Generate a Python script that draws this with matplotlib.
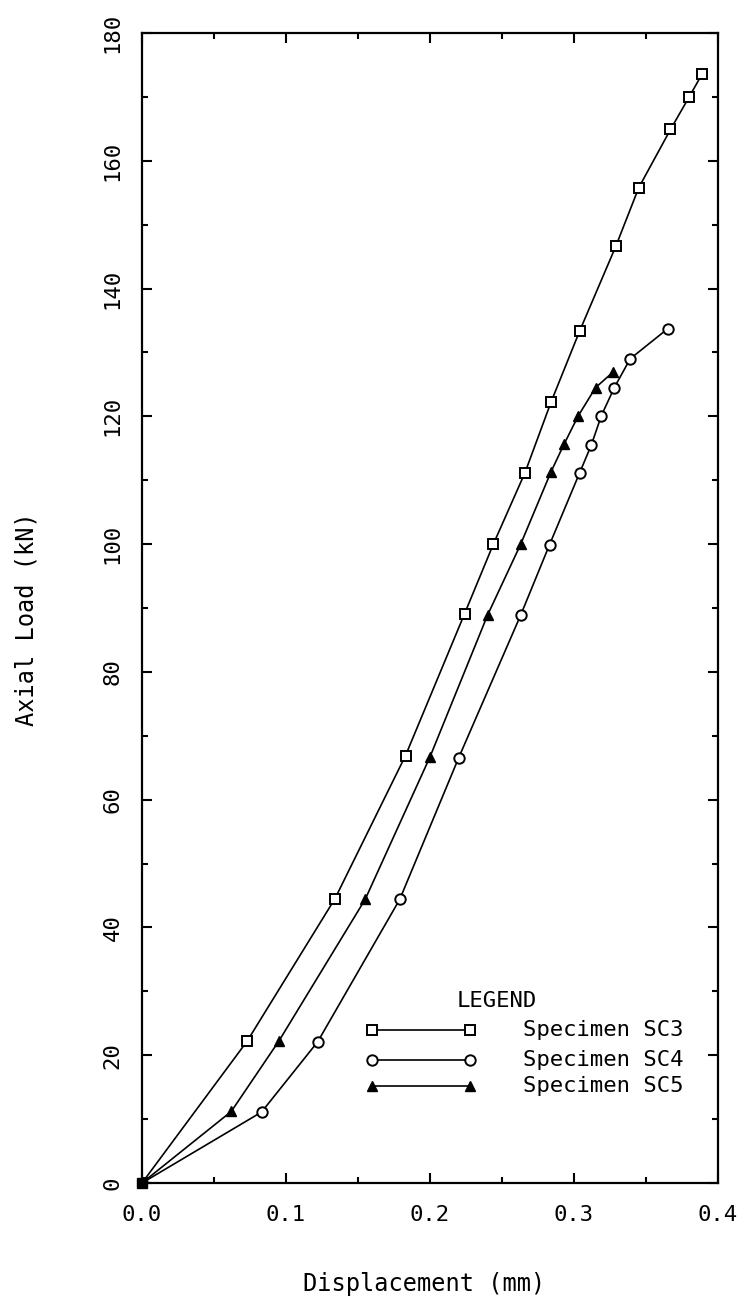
import matplotlib
matplotlib.use("Agg")
import matplotlib.pyplot as plt
from matplotlib.ticker import MultipleLocator

# ---- data ----
sc3_x = [0, 0.073, 0.134, 0.183, 0.224, 0.244, 0.266, 0.284, 0.304, 0.329, 0.345, 0.367, 0.380, 0.389]
sc3_y = [0, 22.2, 44.5, 66.9, 89.1, 100.0, 111.2, 122.2, 133.4, 146.6, 155.8, 164.9, 170.0, 173.6]

sc4_x = [0, 0.083, 0.122, 0.179, 0.220, 0.263, 0.283, 0.304, 0.312, 0.319, 0.328, 0.339, 0.365]
sc4_y = [0, 11.1, 22.1, 44.4, 66.6, 88.9, 99.9, 111.2, 115.5, 120.1, 124.5, 129.0, 133.7]

sc5_x = [0, 0.062, 0.095, 0.155, 0.200, 0.240, 0.263, 0.284, 0.293, 0.303, 0.315, 0.327]
sc5_y = [0, 11.2, 22.2, 44.4, 66.7, 88.9, 100.0, 111.3, 115.6, 120.1, 124.5, 126.9]

labels = ["Specimen SC3", "Specimen SC4", "Specimen SC5"]
x_ticks = [0.0, 0.1, 0.2, 0.3, 0.4]
x_ticklabels = ["0.0", "0.1", "0.2", "0.3", "0.4"]
y_ticks = [0, 20, 40, 60, 80, 100, 120, 140, 160, 180]

FONT = "DejaVu Sans Mono"
plt.rcParams['font.family'] = [FONT]

fig = plt.figure(figsize=(7.44, 13.0), dpi=100)
ax = fig.add_axes([142/744, 1 - 1183/1300, 576/744, 1150/1300])

styles = [
    dict(marker='s', mfc='white', mec='black', mew=1.4),
    dict(marker='o', mfc='white', mec='black', mew=1.4),
    dict(marker='^', mfc='black', mec='black', mew=1.0),
]
series = [(sc3_x, sc3_y), (sc4_x, sc4_y), (sc5_x, sc5_y)]
for (xs, ys), st in zip(series, styles):
    ax.plot(xs, ys, color='black', lw=1.2, ms=7.5, **st, zorder=3)

# origin blob
ax.plot([0], [0], marker='s', ms=7.5, color='black', zorder=4, clip_on=False)

ax.set_xlim(0, 0.4)
ax.set_ylim(0, 180)
ax.set_xticks(x_ticks)
ax.set_xticklabels(x_ticklabels)
ax.xaxis.set_minor_locator(MultipleLocator(0.05))
ax.set_yticks(y_ticks)
ax.set_yticklabels([str(v) for v in y_ticks], rotation=90, va='center')
ax.yaxis.set_minor_locator(MultipleLocator(10))

ax.tick_params(which='both', direction='in', top=True, right=True, width=1.5, colors='black')
ax.tick_params(which='major', length=7)
ax.tick_params(which='minor', length=4.5)
ax.tick_params(axis='x', which='major', labelsize=16, pad=16)
ax.tick_params(axis='y', which='major', labelsize=16, pad=14)
for s in ax.spines.values():
    s.set_linewidth(1.6)

ax.set_xlabel("Displacement (mm)", fontsize=17)
ax.set_ylabel("Axial Load (kN)", fontsize=17)
ax.xaxis.set_label_coords(0.49, -0.077)
ax.yaxis.set_label_coords(-0.18, 0.49)

# manual legend (axes coordinates)
ax.text(0.547, 0.158, "LEGEND", transform=ax.transAxes, fontsize=16, va='center', ha='left')
rows_y = [0.133, 0.107, 0.084]
for st, lab, ry in zip(styles, labels, rows_y):
    ax.plot([0.40, 0.57], [ry, ry], transform=ax.transAxes, color='black', lw=1.2, ms=7.5, **st)
    ax.text(0.662, ry, lab, transform=ax.transAxes, fontsize=16, va='center', ha='left')

fig.savefig("out.png", dpi=100)
